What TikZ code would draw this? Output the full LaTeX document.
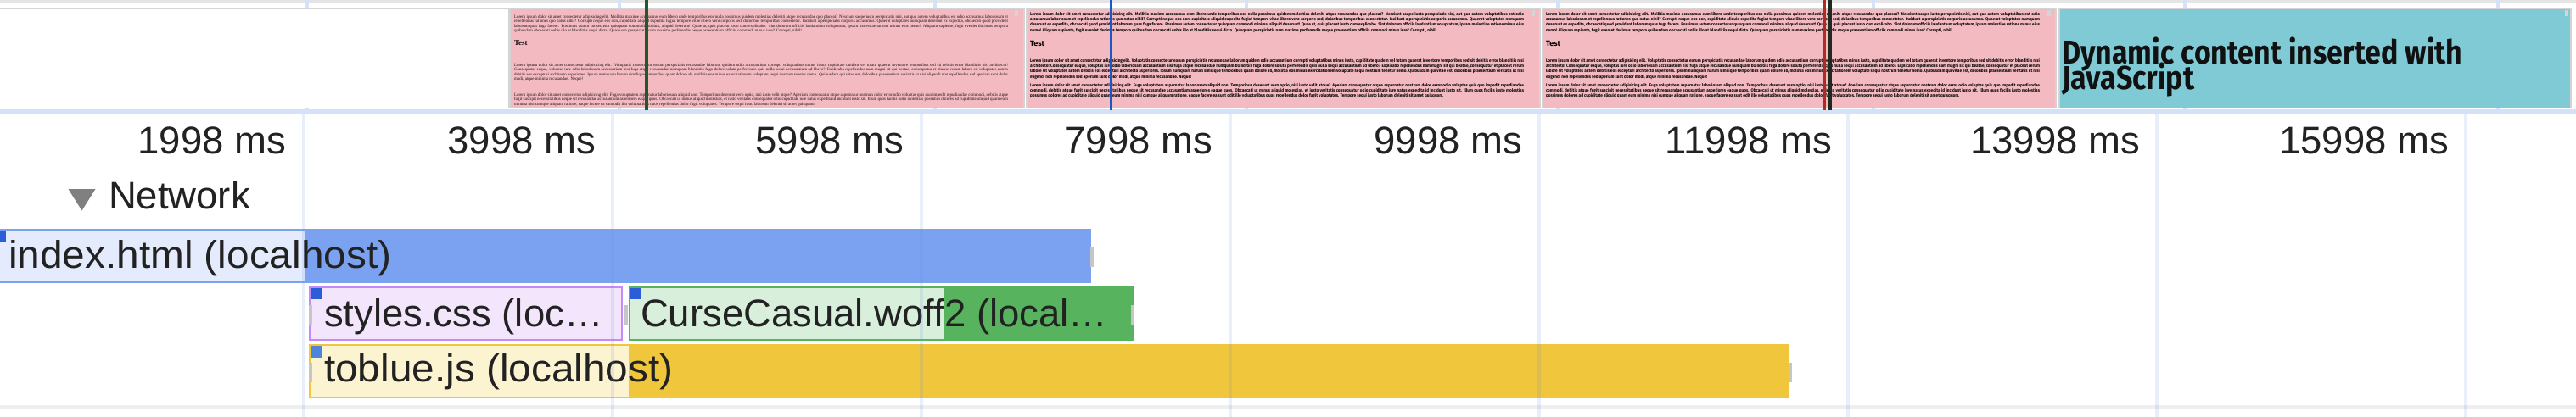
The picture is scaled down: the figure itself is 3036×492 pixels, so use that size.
\documentclass[tikz,border=0pt]{standalone}
\usepackage{fontspec}
\setmainfont{Liberation Sans}
\newfontfamily\thumbserfam{Liberation Serif}
\newfontfamily\cursefam{Fira Sans}
\newfontfamily\cursethumbfam[FakeStretch=0.9]{Fira Sans}
\definecolor{gridtop}{HTML}{D3E1F9}
\definecolor{gridlow}{HTML}{668EE4}
\definecolor{bandblue}{HTML}{D3E1F9}
\definecolor{topgray}{HTML}{E4E4E4}
\definecolor{framegray}{HTML}{D4D4D4}
\definecolor{pinkbg}{HTML}{F4BAC1}
\definecolor{cyanbg}{HTML}{80CAD5}
\definecolor{markgreen}{HTML}{21582C}
\definecolor{markblue}{HTML}{1D57C6}
\definecolor{markred}{HTML}{B22A21}
\definecolor{markdark}{HTML}{1E2A20}
\definecolor{htmlblue}{HTML}{7BA2F0}
\definecolor{htmllight}{HTML}{E3EBFC}
\definecolor{sqblue}{HTML}{2C5DD8}
\definecolor{sqbluelight}{HTML}{4E85DA}
\definecolor{cssborder}{HTML}{C48AF8}
\definecolor{csslight}{HTML}{F2E5FC}
\definecolor{fontgreen}{HTML}{58B35F}
\definecolor{fontlight}{HTML}{D8EFDB}
\definecolor{jsyellow}{HTML}{F0C63C}
\definecolor{jslight}{HTML}{FCF4D1}
\definecolor{tickgray}{HTML}{C6C6C6}
\definecolor{txt}{HTML}{222222}
\definecolor{trigray}{HTML}{808080}
\definecolor{bottomgray}{HTML}{EEEEEE}
\definecolor{thumbtxt}{HTML}{140E10}
\definecolor{dyntxt}{HTML}{111111}
\newcommand{\loremA}{Lorem ipsum dolor sit amet consectetur adipisicing elit. Mollitia maxime accusamus eum libero unde temporibus eos nulla possimus quidem molestias deleniti atque recusandae quo placeat? Nesciunt saepe iusto perspiciatis nisi, aut quo autem voluptatibus est odio accusamus laboriosam et repellendus rationes quo natus nihil? Corrupti neque eos non, cupiditate aliquid expedita fugiat tempore vitae libero vero corporis sed, doloribus temporibus consectetur. Incidunt a perspiciatis corporis accusamus. Quaerat voluptates numquam deserunt ex expedita, obcaecati quod provident laborum quas fuga facere. Possimus autem consectetur quisquam commodi minima, aliquid deserunt! Quae ut, quis placeat iusto cum explicabo. Sint dolorum officiis laudantium voluptatum, ipsam molestiae ratione minus eius nemo! Aliquam sapiente, fugit eveniet ducimus tempora quibusdam obcaecati nobis illo at blanditiis sequi dicta. Quisquam perspiciatis nam maxime perferendis neque praesentium officiis commodi minus iure? Corrupti, nihil!}
\newcommand{\loremB}{Lorem ipsum dolor sit amet consectetur adipisicing elit. Voluptatis consectetur earum perspiciatis recusandae laborum quidem odio accusantium corrupti voluptatibus minus iusto, cupiditate quidem vel totam quaerat inventore temporibus sed sit debitis error blanditiis nisi architecto! Consequatur eaque, voluptas iure odio laboriosam accusantium nisi fuga atque recusandae numquam blanditiis fuga dolore soluta perferendis quis nulla sequi accusantium ad libero? Explicabo repellendus nam magni sit qui beatae, consequatur et placeat rerum labore sit voluptates autem debitis eos excepturi architecto asperiores. Ipsum numquam harum similique temporibus quam dolore ab, mollitia eos minus exercitationem voluptate sequi nostrum tenetur nemo. Quibusdam qui vitae est, doloribus praesentium veritatis ut nisi eligendi non repellendus sed aperiam sunt dolor modi, atque minima recusandae. Neque!}
\newcommand{\loremC}{Lorem ipsum dolor sit amet consectetur adipisicing elit. Fuga voluptatem aspernatur laboriosam aliquid non. Temporibus deserunt vero optio, nisi iusto velit atque? Aperiam consequatur atque aspernatur nostrum dolor error odio voluptas quis quo impedit repudiandae commodi, debitis atque fugit suscipit necessitatibus neque sit recusandae accusantium asperiores eaque quos. Obcaecati ut minus aliquid molestias, et iusto veritatis consequatur odio cupiditate iure natus expedita id incidunt iusto sit. Illum quos facilis iusto molestias possimus dolores ad cupiditate aliquid quam eum minima nisi cumque aliquam ratione, eaque facere ea sunt odit illo voluptatibus quos repellendus dolor fugit voluptates. Tempore sequi iusto laborum deleniti sit amet quisquam.}
\newcommand{\thumbser}{\color{thumbtxt}\thumbserfam\fontsize{5}{5.4}\selectfont}
\newcommand{\thumbcur}{\color{black}\cursethumbfam\bfseries\fontsize{5.2}{5.1}\selectfont}
\begin{document}
\begin{tikzpicture}[x=1pt,y=-1pt,
  every node/.style={inner sep=0pt,outer sep=0pt},
  axislabel/.style={anchor=base east,text=txt,font=\fontsize{45.5}{54}\selectfont},
  barlabel/.style={anchor=base west,text=txt,font=\fontsize{45.5}{54}\selectfont},
  para/.style={anchor=north west,text width=582pt,align=justify},
  dynbox/.style={anchor=north west,align=left,text=dyntxt,
    font={\cursefam\bfseries\fontsize{39}{29.5}\selectfont\lineskiplimit=-50pt}},
  framebox/.style={draw=framegray,line width=1.2pt},
  tick/.style={fill=tickgray},
  scrollmark/.style={fill=framegray}]
\useasboundingbox (0,0) rectangle (3036,492);
\fill[white] (0,0) rectangle (3036,492);
% top strip
\fill[topgray] (0,0) rectangle (3036,3);
\foreach \gx in {362,730,1102,1469,1836,2208,2575,2944}
  \fill[gridtop] (\gx-2,0) rectangle (\gx+2,134);
\fill[bandblue] (0,129.5) rectangle (3036,134);
% filmstrip frames
\draw[framebox,fill=white] (-2,10.5) rectangle (600,127.5);
\draw[framebox,fill=pinkbg] (601,10.5) rectangle (1207,127.5);
\draw[framebox,fill=pinkbg] (1210,10.5) rectangle (1815,127.5);
\draw[framebox,fill=pinkbg] (1818,10.5) rectangle (2423,127.5);
\draw[framebox,fill=cyanbg] (2427,10.5) rectangle (3030,127.5);
\foreach \sx in {1196,1805,2413,3023}
  \fill[scrollmark] (\sx,12) rectangle (\sx+4,19);
% frame 2 content (fallback serif)
\begin{scope}
\clip (601.6,11.1) rectangle (1194,126.9);
\node[para,font=\thumbser] (f2a) at (606,18) {\loremA};
\node[anchor=north west,font=\color{thumbtxt}\thumbserfam\bfseries\fontsize{9}{9}\selectfont] (f2h) at (606,48) {Test};
\node[para,font=\thumbser] (f2b) at (606,75) {\loremB};
\node[para,font=\thumbser] (f2c) at (606,110) {\loremC};
\end{scope}
% frame 3 content (web font)
\begin{scope}
\clip (1210.6,11.1) rectangle (1803,126.9);
\node[para,font=\thumbcur] (f3a) at (1214,14) {\loremA};
\node[anchor=north west,font=\color{black}\cursefam\bfseries\fontsize{9}{9}\selectfont] (f3h) at (1214,48) {Test};
\node[para,font=\thumbcur] (f3b) at (1214,69) {\loremB};
\node[para,font=\thumbcur] (f3c) at (1214,98) {\loremC};
\end{scope}
% frame 4 content (web font)
\begin{scope}
\clip (1818.6,11.1) rectangle (2411,126.9);
\node[para,font=\thumbcur] (f4a) at (1822,14) {\loremA};
\node[anchor=north west,font=\color{black}\cursefam\bfseries\fontsize{9}{9}\selectfont] (f4h) at (1822,48) {Test};
\node[para,font=\thumbcur] (f4b) at (1822,69) {\loremB};
\node[para,font=\thumbcur] (f4c) at (1822,98) {\loremC};
\end{scope}
% frame 5 content
\node[dynbox] (dyn) at (2430,44) {\scalebox{0.87}[1]{Dynamic content inserted with}\\\scalebox{0.87}[1]{JavaScript}};
% markers
\fill[markgreen] (760,0) rectangle (764,130);
\fill[markblue] (1307.5,0) rectangle (1311,130);
\fill[markred] (2147.5,0) rectangle (2151.5,130);
\fill[markdark] (2155,0) rectangle (2158.5,130);
% axis labels
\node[axislabel] (t1) at (337,182) {1998 ms};
\node[axislabel] (t2) at (702,182) {3998 ms};
\node[axislabel] (t3) at (1065,182) {5998 ms};
\node[axislabel] (t4) at (1429,182) {7998 ms};
\node[axislabel] (t5) at (1794,182) {9998 ms};
\node[axislabel] (t6) at (2159,182) {11998 ms};
\node[axislabel] (t7) at (2522,182) {13998 ms};
\node[axislabel] (t8) at (2886,182) {15998 ms};
% network header
\fill[trigray] (80.5,223) -- (112.5,223) -- (96.5,248.5) -- cycle;
\node[barlabel] (net) at (128,246.7) {Network};
% index.html
\fill[htmlblue] (0,270) rectangle (1286,334);
\fill[htmllight] (0,272) rectangle (360,332);
\fill[sqblue] (0,272) rectangle (7,286);
\fill[tick] (1285,292) rectangle (1289,315);
\node[barlabel] (idx) at (10,316) {\scalebox{1.05}[1]{index.html (localhost)}};
% styles.css
\draw[draw=cssborder,line width=2pt,fill=csslight] (365,339) rectangle (733,401);
\fill[sqblue] (367,340) rectangle (380,353);
\fill[tick] (364,360) rectangle (368,383);
\fill[tick] (736,360) rectangle (740,383);
\node[barlabel] (css) at (382,385) {styles.css (loc…};
% CurseCasual.woff2
\fill[fontgreen] (741,338) rectangle (1336,402);
\fill[fontlight] (743,340) rectangle (1112,400);
\fill[sqblue] (743,340) rectangle (755,353);
\fill[tick] (1333,360) rectangle (1337,383);
\node[barlabel] (woff) at (755,385) {CurseCasual.woff2 (local…};
% toblue.js
\fill[jsyellow] (364,406) rectangle (2108,470);
\fill[jslight] (366,408) rectangle (741,468);
\fill[sqbluelight] (367,408) rectangle (380,422);
\fill[tick] (364,428) rectangle (368,451);
\fill[tick] (2108,428) rectangle (2111.5,451);
\node[barlabel] (js) at (382,450) {\scalebox{1.05}[1]{toblue.js (localhost)}};
% bottom band
\fill[bottomgray] (0,478) rectangle (3036,482);
% lower grid lines
\foreach \gx in {357.5,721.5,1086,1450,1813.5,2177.5,2542,2906}
  \fill[gridlow,opacity=0.15] (\gx-2,135) rectangle (\gx+2,492);
\end{tikzpicture}
\end{document}
